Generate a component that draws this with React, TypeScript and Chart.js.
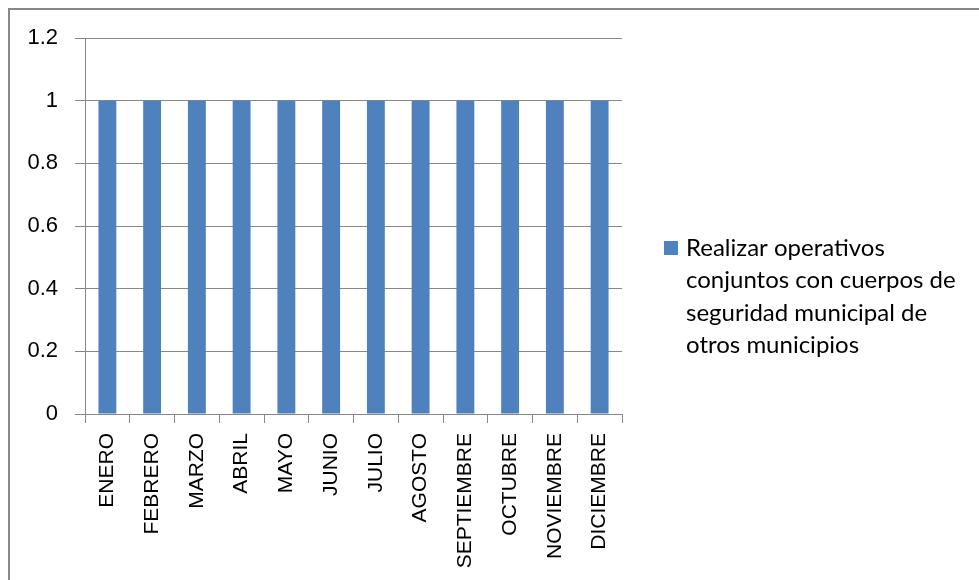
import React, { useEffect, useRef } from "react";
import { Chart, registerables } from "chart.js";

Chart.register(...registerables);

const categories = [
  "ENERO", "FEBRERO", "MARZO", "ABRIL", "MAYO", "JUNIO",
  "JULIO", "AGOSTO", "SEPTIEMBRE", "OCTUBRE", "NOVIEMBRE", "DICIEMBRE",
];
const seriesValues = [1, 1, 1, 1, 1, 1, 1, 1, 1, 1, 1, 1];
const seriesName =
  "Realizar operativos conjuntos con cuerpos de seguridad municipal de otros municipios";
const legendLines = [
  "Realizar operativos",
  "conjuntos con cuerpos de",
  "seguridad municipal de",
  "otros municipios",
];
const yMin = 0;
const yMax = 1.2;
const yStep = 0.2;

const BAR_COLOR = "#4F81BD";
const LINE_COLOR = "#878787";

const framePlugin = {
  id: "frame",
  beforeDraw(chart: any) {
    const ctx = chart.ctx;
    ctx.save();
    ctx.fillStyle = "#ffffff";
    ctx.fillRect(0, 0, chart.width, chart.height);
    ctx.fillStyle = LINE_COLOR;
    ctx.fillRect(8, 8, chart.width - 8, 2);
    ctx.fillRect(8, 8, 2, chart.height - 8);
    ctx.restore();
  },
};

const sideLegendPlugin = {
  id: "sideLegend",
  afterDraw(chart: any) {
    const ctx = chart.ctx;
    const area = chart.chartArea;
    const ds = chart.data.datasets[0];
    const x0 = area.right + 42;
    const y0 = 241;
    ctx.save();
    ctx.fillStyle = ds.backgroundColor;
    ctx.fillRect(x0, y0, 14, 14);
    ctx.fillStyle = "#000000";
    ctx.font = "24px Lato";
    ctx.textBaseline = "alphabetic";
    ctx.textAlign = "left";
    legendLines.forEach((line, i) => {
      ctx.fillText(line, x0 + 22, y0 + 15 + i * 32.4);
    });
    ctx.restore();
  },
};

export default function App() {
  const ref = useRef<HTMLCanvasElement | null>(null);

  useEffect(() => {
    if (!ref.current) return;
    const chart = new Chart(ref.current, {
      type: "bar",
      data: {
        labels: categories,
        datasets: [
          {
            label: seriesName,
            data: seriesValues,
            backgroundColor: BAR_COLOR,
            borderWidth: 0,
            barPercentage: 0.4,
            categoryPercentage: 1,
          },
        ],
      },
      options: {
        responsive: false,
        animation: false,
        layout: { padding: { top: 38, right: 357, left: 0, bottom: 0 } },
        plugins: {
          legend: { display: false },
          tooltip: { enabled: false },
        },
        scales: {
          x: {
            offset: true,
            afterFit: (scale: any) => {
              scale.height = 166;
            },
            grid: {
              display: true,
              drawOnChartArea: false,
              drawTicks: true,
              tickLength: 9,
              offset: true,
              color: LINE_COLOR,
            },
            border: { display: true, color: LINE_COLOR, width: 1 },
            ticks: {
              minRotation: 90,
              maxRotation: 90,
              autoSkip: false,
              padding: 10,
              color: "#000000",
              font: { family: "'Liberation Sans'", size: 21 },
            },
          },
          y: {
            min: yMin,
            max: yMax,
            afterFit: (scale: any) => {
              scale.width = 85;
            },
            grid: {
              color: LINE_COLOR,
              tickLength: 10,
              drawTicks: true,
            },
            border: { display: true, color: LINE_COLOR, width: 1 },
            ticks: {
              stepSize: yStep,
              padding: 17,
              color: "#000000",
              font: { family: "'Liberation Sans'", size: 22 },
              callback: (v: any) => String(parseFloat(Number(v).toFixed(2))),
            },
          },
        },
      },
      plugins: [framePlugin, sideLegendPlugin],
    } as any);
    return () => chart.destroy();
  }, []);

  return (
    <div style={{ position: "fixed", left: 0, top: 0, width: 979, height: 580 }}>
      <canvas ref={ref} width={979} height={580} style={{ display: "block" }} />
    </div>
  );
}
